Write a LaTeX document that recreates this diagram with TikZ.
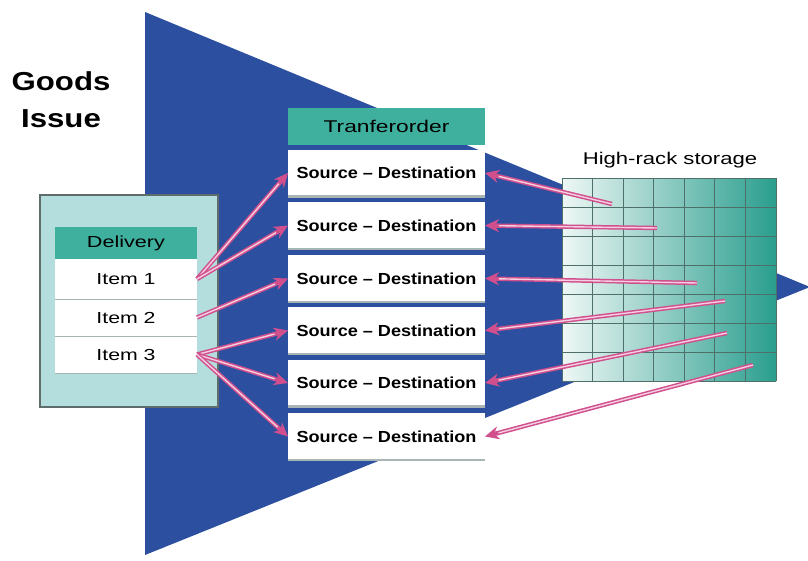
\documentclass[tikz,border=0pt]{standalone}
\usepackage{fontspec}
\setmainfont{Liberation Sans}
\usepackage{graphicx}
\usetikzlibrary{arrows.meta}
\definecolor{tri}{HTML}{2C509F}
\definecolor{teal1}{HTML}{3FB09E}
\definecolor{delbg}{HTML}{B4DEDD}
\definecolor{delrim}{HTML}{5E6C6B}
\definecolor{rackL}{HTML}{EEF7F5}
\definecolor{rackR}{HTML}{2A9E8E}
\definecolor{gridc}{HTML}{4F6F6A}
\definecolor{pk}{HTML}{D24F8E}
\definecolor{pkcore}{HTML}{F3CFE0}
\definecolor{shade}{HTML}{A9B4B4}
\newcommand\sdtext{\scalebox{1.13}[1]{\bfseries Source \textendash\ Destination}}
\newcommand\fs[1]{\fontsize{#1}{#1}\selectfont}
\begin{document}
\begin{tikzpicture}[x=1pt,y=-1pt,
  hdr/.style={fill=teal1,draw=none,inner sep=0pt,outer sep=0pt,font=\fs{16}},
  itembox/.style={fill=white,draw=none,inner sep=0pt,outer sep=0pt,minimum width=142pt,font=\fs{16}},
  rowbox/.style={fill=white,draw=none,inner sep=0pt,outer sep=0pt,minimum width=197pt,minimum height=47pt,font=\fs{16}},
  parrow/.style={draw=pk,line width=4.4pt,-{Stealth[length=14pt,width=13pt]}},
  pcore/.style={draw=pkcore,line width=1.4pt,shorten >=14pt},
  shadowline/.style={draw=shade,line width=2.5pt},
  sepline/.style={draw=shade,line width=1pt}]
\useasboundingbox (0,0) rectangle (808,560);
% big triangle
\fill[tri] (145,12) -- (810,287) -- (145,555) -- cycle;
% Goods Issue
\node[align=center,font=\fs{26}\bfseries] (gi) at (61,100) {\scalebox{1.2}[1]{Goods}\\[11pt]\scalebox{1.2}[1]{Issue}};
% delivery panel
\draw[fill=delbg,draw=delrim,line width=2.5pt] (40,195) rectangle (218,407);
\node[hdr,minimum width=142pt,minimum height=32pt] (dh) at (126,243) {\scalebox{1.35}[1]{Delivery}};
\node[itembox,minimum height=40pt] (i1) at (126,279) {\scalebox{1.33}[1]{Item 1}};
\node[itembox,minimum height=37pt] (i2) at (126,317.5) {\scalebox{1.33}[1]{Item 2}};
\node[itembox,minimum height=37pt] (i3) at (126,354.5) {\scalebox{1.33}[1]{Item 3}};
\draw[sepline] (i1.south west) -- (i1.south east);
\draw[sepline] (i2.south west) -- (i2.south east);
\draw[sepline] (i3.south west) -- (i3.south east);
% storage
\shade[left color=rackL,right color=rackR] (562,178) rectangle (776,381);
\foreach \k in {0,...,7} {
  \draw[gridc,line width=1pt] ({562+\k*214/7},178) -- ({562+\k*214/7},381);
  \draw[gridc,line width=1pt] (562,{178+\k*203/7}) -- (776,{178+\k*203/7});
}
\node[font=\fs{17}] (hr) at (670,160) {\scalebox{1.3}[1]{High-rack storage}};
% transfer order
\node[hdr,minimum width=197pt,minimum height=37pt] (th) at (386.5,126.5) {\fs{17}\scalebox{1.34}[1]{Tranferorder}};
\node[rowbox] (r1) at (386.5,173) {\sdtext};
\node[rowbox] (r2) at (386.5,225.5) {\sdtext};
\node[rowbox] (r3) at (386.5,278.5) {\sdtext};
\node[rowbox] (r4) at (386.5,330.5) {\sdtext};
\node[rowbox] (r5) at (386.5,383) {\sdtext};
\node[rowbox] (r6) at (386.5,436.5) {\sdtext};
\foreach \r in {r1,r2,r3,r4,r5,r6} {
  \draw[shadowline] (\r.south west) -- (\r.south east);
}
% storage start points
\coordinate (s1) at (612,204);
\coordinate (s2) at (657,228);
\coordinate (s3) at (697,283);
\coordinate (s4) at (725,301);
\coordinate (s5) at (727,333);
\coordinate (s6) at (753,365);
% arrows
\foreach \a/\b in {i1/r1,i1/r2,i2/r3,i3/r4,i3/r5,i3/r6} {
  \draw[parrow] (\a.east) -- (\b.west);
  \draw[pcore] (\a.east) -- (\b.west);
}
\foreach \a/\b in {s1/r1,s2/r2,s3/r3,s4/r4,s5/r5,s6/r6} {
  \draw[parrow] (\a) -- (\b.east);
  \draw[pcore] (\a) -- (\b.east);
}
\end{tikzpicture}
\end{document}
